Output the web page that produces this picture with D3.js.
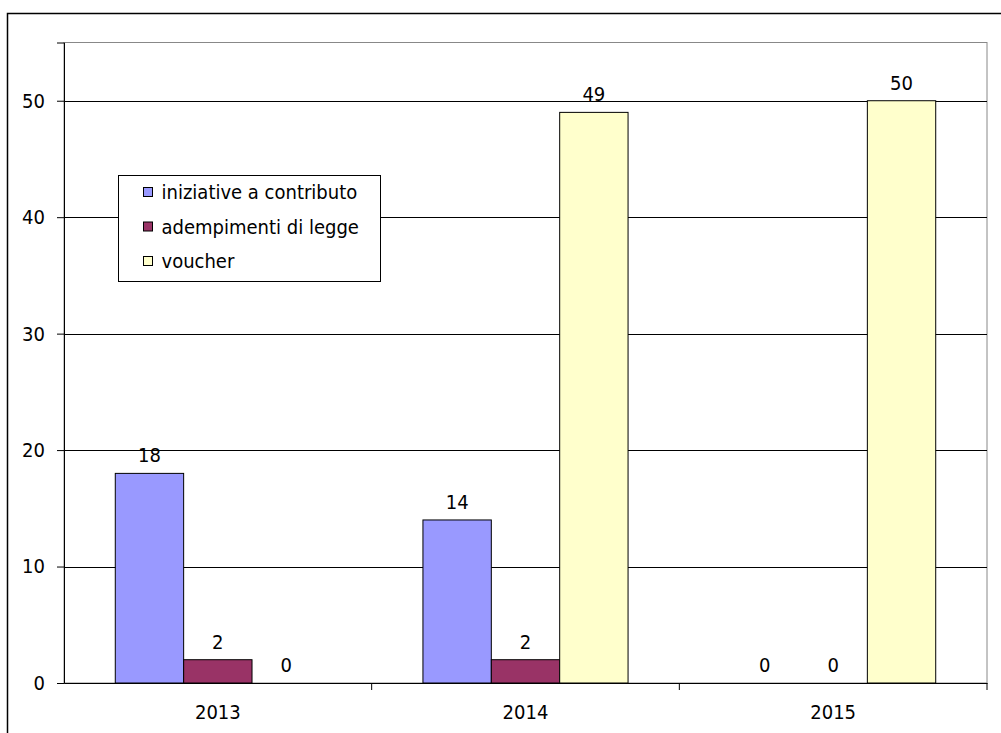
<!DOCTYPE html>
<html><head><meta charset="utf-8">
<script src="https://cdn.jsdelivr.net/npm/d3@7"></script>
<style>
html,body{margin:0;padding:0;background:#fff;overflow:hidden;}
svg{display:block;}
svg text{font-family:"DejaVu Sans Condensed","DejaVu Sans",sans-serif;font-stretch:condensed;font-size:20px;fill:#000;}
</style></head>
<body>
<svg id="c" width="1001" height="733"></svg>
<script>
const categories = ["2013", "2014", "2015"];
const seriesNames = ["iniziative a contributo", "adempimenti di legge", "voucher"];
const iniziative = [18, 14, 0];
const adempimenti = [2, 2, 0];
const voucher = [0, 49, 50];
const yTicks = [0, 10, 20, 30, 40, 50];
const colors = ["#9999FF", "#993366", "#FFFFCC"];

const series = [iniziative, adempimenti, voucher];
const svg = d3.select("#c");
const L = 64, R = 987, T = 42.5, B = 683;

// outer frame (cut off at right and bottom)
svg.append("rect").attr("x", 7.5).attr("y", 13.5).attr("width", 1010).attr("height", 740)
  .attr("fill", "none").attr("stroke", "#000").attr("stroke-width", 1.5);

const y = d3.scaleLinear().domain([0, 55]).range([B, T]);
const x0 = d3.scaleBand().domain(categories).range([L, R]).paddingInner(0).paddingOuter(0);
const bw = x0.bandwidth() / 4.5;
const x1 = d3.scaleBand().domain(d3.range(3)).range([0.75 * bw, 3.75 * bw]).padding(0);

// plot area border
svg.append("rect").attr("x", L).attr("y", T).attr("width", R - L).attr("height", B - T)
  .attr("fill", "none").attr("stroke", "#888").attr("stroke-width", 1);

// gridlines
svg.append("g").selectAll("line").data(yTicks.filter(d => d > 0)).join("line")
  .attr("x1", L).attr("x2", R).attr("y1", d => Math.round(y(d)) + 0.5).attr("y2", d => Math.round(y(d)) + 0.5)
  .attr("stroke", "#000").attr("stroke-width", 1);

// y axis
const yAxis = d3.axisLeft(y).tickValues(yTicks).tickSize(7).tickPadding(12);
const gy = svg.append("g").attr("transform", `translate(${L},0)`).call(yAxis);
gy.select(".domain").attr("stroke", "#000");
gy.selectAll(".tick line").attr("stroke", "#000");
gy.selectAll("text").style("font-size", "20px").attr("fill", "#000");

// bars
const groups = svg.append("g").selectAll("g").data(categories).join("g")
  .attr("transform", d => `translate(${x0(d)},0)`);
groups.selectAll("rect").data((c, i) => series.map((s, k) => ({k, v: s[i]})).filter(d => d.v > 0)).join("rect")
  .attr("x", d => x1(d.k)).attr("width", x1.bandwidth())
  .attr("y", d => y(d.v)).attr("height", d => y(0) - y(d.v))
  .attr("fill", d => colors[d.k]).attr("stroke", "#000").attr("stroke-width", 1);
groups.selectAll("text").data((c, i) => series.map((s, k) => ({k, v: s[i]}))).join("text")
  .attr("x", d => x1(d.k) + x1.bandwidth() / 2).attr("y", d => y(d.v) - 11)
  .attr("text-anchor", "middle").text(d => d.v);

// x axis
const xAxis = d3.axisBottom(x0).tickSize(0).tickPadding(22);
const gx = svg.append("g").attr("transform", `translate(0,${B})`).call(xAxis);
gx.select(".domain").attr("stroke", "#000");
gx.selectAll("text").style("font-size", "20px").attr("fill", "#000");
// category boundary ticks
svg.append("g").selectAll("line").data(categories.slice(1).concat(["end"])).join("line")
  .attr("x1", d => d === "end" ? R : x0(d)).attr("x2", d => d === "end" ? R : x0(d))
  .attr("y1", B).attr("y2", B + 7).attr("stroke", "#000");

// legend
const lg = svg.append("g").attr("transform", "translate(118.5,175.5)");
lg.append("rect").attr("width", 262).attr("height", 106).attr("fill", "#fff").attr("stroke", "#000");
const items = lg.selectAll("g").data(seriesNames).join("g")
  .attr("transform", (d, i) => `translate(0,${16.5 + i * 34.5})`);
items.append("rect").attr("x", 25).attr("y", -4.5).attr("width", 9).attr("height", 9)
  .attr("fill", (d, i) => colors[i]).attr("stroke", "#000");
items.append("text").attr("x", 43).attr("y", 7).text(d => d);
</script>
</body></html>
